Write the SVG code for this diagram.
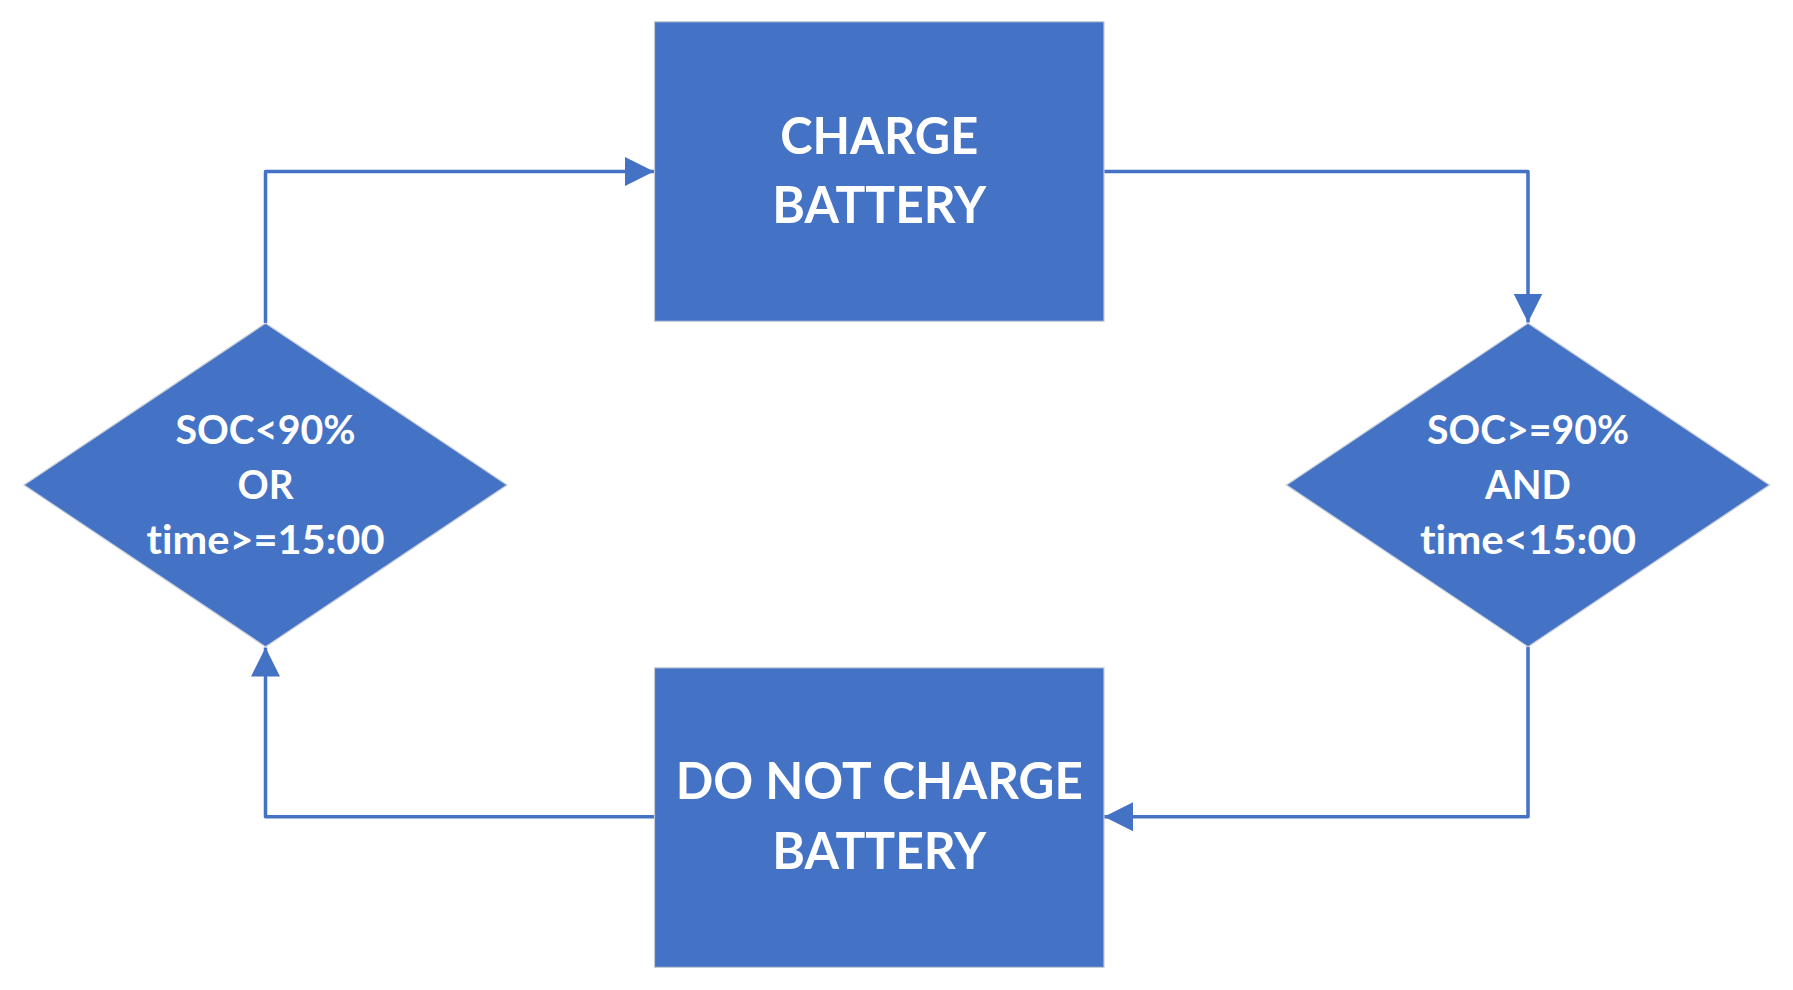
<svg xmlns="http://www.w3.org/2000/svg" width="1793" height="990" viewBox="0 0 1793 990">
  <defs>
    <style>
      .shape { fill: #4472C4; stroke: #c5ccd8; stroke-width: 1.2; }
      .conn { fill: none; stroke: #4472C4; stroke-width: 3.5; stroke-linejoin: round; }
      .big { font-family: Lato, "Open Sans", sans-serif; font-weight: 700; font-size: 52px; fill: #ffffff; text-anchor: middle; font-variant-ligatures: none; }
      .mid { font-family: Lato, "Open Sans", sans-serif; font-weight: 700; font-size: 40.5px; fill: #ffffff; text-anchor: middle; font-variant-ligatures: none; }
    </style>
    <marker id="arrow" viewBox="0 0 29 29" refX="29" refY="14.5" markerWidth="29" markerHeight="29" markerUnits="userSpaceOnUse" orient="auto">
      <path d="M0,0 L29,14.5 L0,29 Z" fill="#4472C4"/>
    </marker>
  </defs>
  <rect width="1793" height="990" fill="#ffffff"/>

  <g id="connectors">
    <path class="conn" d="M265.5,323 L265.5,171.5 L654,171.5" marker-end="url(#arrow)"/>
    <path class="conn" d="M1104,171.5 L1528,171.5 L1528,322.5" marker-end="url(#arrow)"/>
    <path class="conn" d="M1528,646.5 L1528,816.7 L1104,816.7" marker-end="url(#arrow)"/>
    <path class="conn" d="M654,816.7 L265.5,816.7 L265.5,647.5" marker-end="url(#arrow)"/>
  </g>

  <g id="charge-battery">
    <rect class="shape" x="654.5" y="21.7" width="449.5" height="299.6"/>
    <text class="big" x="879.3" y="154" textLength="198" lengthAdjust="spacingAndGlyphs">CHARGE</text>
    <text class="big" x="879.3" y="223.3" textLength="214" lengthAdjust="spacingAndGlyphs">BATTERY</text>
  </g>

  <g id="do-not-charge-battery">
    <rect class="shape" x="654.5" y="667.8" width="449.5" height="299.6"/>
    <text class="big" x="879.3" y="799.3" textLength="407" lengthAdjust="spacingAndGlyphs">DO NOT CHARGE</text>
    <text class="big" x="879.3" y="869.3" textLength="214" lengthAdjust="spacingAndGlyphs">BATTERY</text>
  </g>

  <g id="decision-left">
    <polygon class="shape" points="265.5,323.3 507,485 265.5,646.7 24,485"/>
    <text class="mid" x="265.5" y="444" textLength="180" lengthAdjust="spacingAndGlyphs">SOC&lt;90%</text>
    <text class="mid" x="265.5" y="499.3" textLength="56" lengthAdjust="spacingAndGlyphs">OR</text>
    <text class="mid" x="265.5" y="554" textLength="238" lengthAdjust="spacingAndGlyphs">time&gt;=15:00</text>
  </g>

  <g id="decision-right">
    <polygon class="shape" points="1528,323.3 1769.5,485 1528,646.7 1286.5,485"/>
    <text class="mid" x="1528" y="444" textLength="202" lengthAdjust="spacingAndGlyphs">SOC&gt;=90%</text>
    <text class="mid" x="1528" y="499.3" textLength="86" lengthAdjust="spacingAndGlyphs">AND</text>
    <text class="mid" x="1528" y="554" textLength="216" lengthAdjust="spacingAndGlyphs">time&lt;15:00</text>
  </g>
</svg>
